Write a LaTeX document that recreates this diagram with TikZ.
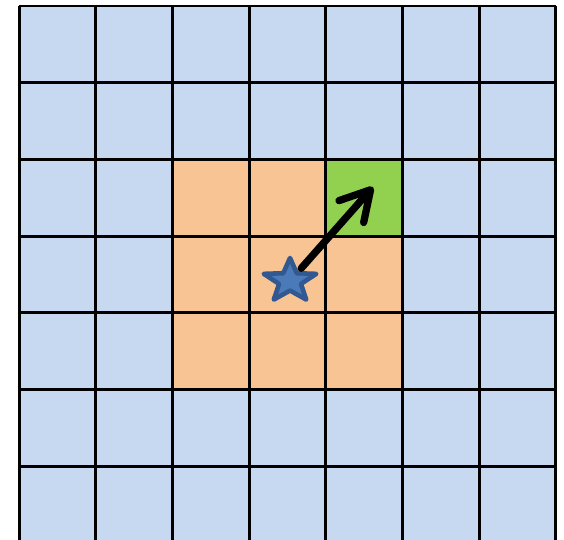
\documentclass[tikz,border=0pt]{standalone}
\usetikzlibrary{arrows.meta,shapes.geometric}

\definecolor{cellblue}{RGB}{198,217,240}
\definecolor{cellorange}{RGB}{248,196,148}
\definecolor{cellgreen}{RGB}{146,208,80}
\definecolor{starfill}{RGB}{74,122,184}
\definecolor{starline}{RGB}{50,88,145}

\begin{document}
\begin{tikzpicture}[
  gridline/.style={line width=1.1pt,black},
  agent/.style={star,star points=5,star point ratio=2.4,minimum size=0.6cm,
                inner sep=0pt,draw=starline,fill=starfill,line width=1.7pt,
                line join=round,transform shape,xscale=1.2},
  move/.style={-{Straight Barb[length=3.8mm,width=4.3mm,line cap=round,line join=round]},
               line width=2.7pt,line cap=round},
]
\useasboundingbox (-0.248,0.038) rectangle (7.105,7.078);

%% ===== Cells =================================================================
\fill[cellblue] (0,0) rectangle (7,7);
\fill[cellorange] (2,2) rectangle (5,5);
\fill[cellgreen] (4,4) rectangle (5,5);
\draw[gridline] (0,0) grid (7,7);

%% ===== Agent and move ========================================================
\node[agent] (start) at (3.533,3.415) {};
\coordinate (goal) at (4.615,4.64);
\draw[move,shorten <=0.22cm] (start.center) -- (goal);

\end{tikzpicture}
\end{document}
